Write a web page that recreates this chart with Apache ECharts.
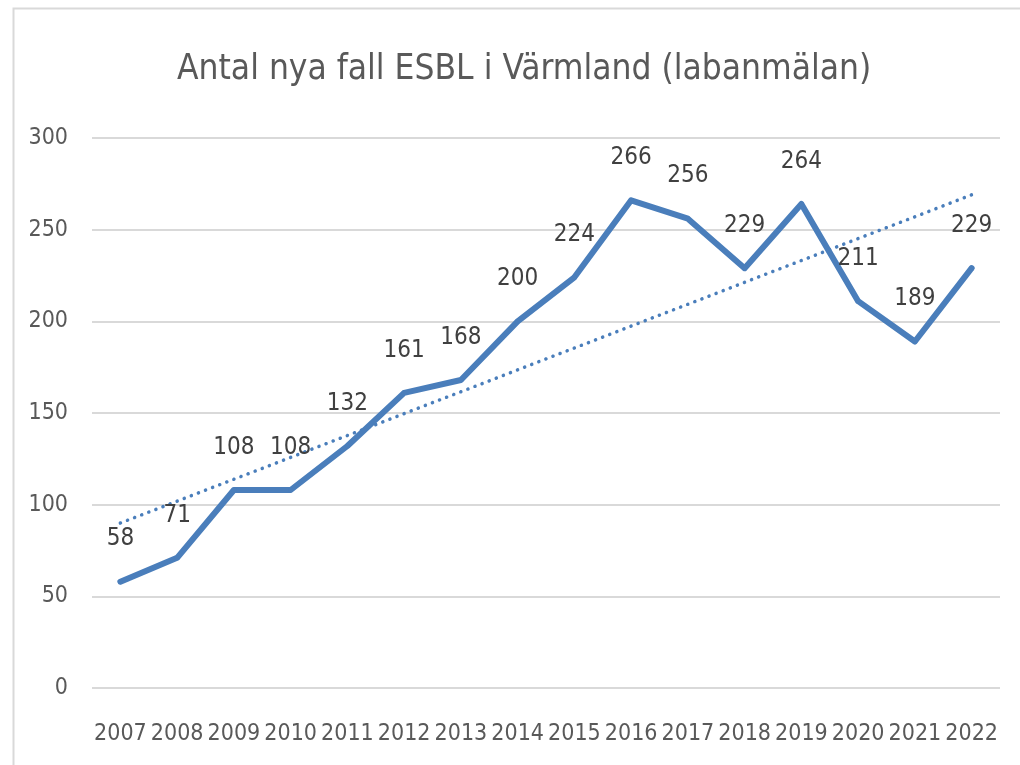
<!DOCTYPE html>
<html>
<head>
<meta charset="utf-8">
<script src="https://cdn.jsdelivr.net/npm/echarts@6/dist/echarts.min.js"></script>
<style>
  html, body { margin: 0; padding: 0; background: #fff; }
  #chart { width: 1020px; height: 765px; }
</style>
</head>
<body>
<div id="chart"></div>
<script>
const years = ["2007", "2008", "2009", "2010", "2011", "2012", "2013", "2014",
  "2015", "2016", "2017", "2018", "2019", "2020", "2021", "2022"];
const cases = [58, 71, 108, 108, 132, 161, 168, 200, 224, 266, 256, 229, 264, 211, 189, 229];
// linear trend, read at first and last year
const trendEnds = [90, 269];

const font = "'DejaVu Sans Condensed', 'DejaVu Sans', sans-serif";
const grey = "#595959";
const blue = "#4a7ebb";

const myChart = echarts.init(document.getElementById("chart"));
myChart.setOption({
  animation: false,
  title: {
    text: "Antal nya fall ESBL i Värmland (labanmälan)",
    left: 172,
    top: 47,
    textStyle: { color: grey, fontFamily: font, fontSize: 35, fontWeight: "normal" }
  },
  graphic: [{
    type: "rect",
    left: 11, top: 6,
    shape: { width: 1030, height: 800 },
    style: { fill: "none", stroke: "#d9d9d9", lineWidth: 2 }
  }],
  grid: { left: 92, right: 20, top: 138, bottom: 77 },
  xAxis: {
    type: "category",
    data: years,
    axisLine: { show: false },
    axisTick: { show: false },
    axisLabel: { color: grey, fontFamily: font, fontSize: 23, margin: 35, interval: 0 }
  },
  yAxis: {
    type: "value",
    min: 0, max: 300, interval: 50,
    axisLine: { show: false },
    axisTick: { show: false },
    axisLabel: { color: grey, fontFamily: font, fontSize: 23, margin: 24 },
    splitLine: { lineStyle: { color: "#d9d9d9", width: 2 } }
  },
  series: [
    {
      type: "line",
      data: cases,
      showSymbol: true,
      showAllSymbol: true,
      symbol: "circle",
      symbolSize: 5,
      itemStyle: { color: blue },
      lineStyle: { color: blue, width: 6, cap: "round", join: "round" },
      label: {
        show: true, position: "top", distance: 28,
        color: "#404040", fontFamily: font, fontSize: 24
      },
      z: 3
    },
    {
      type: "line",
      data: [[years[0], trendEnds[0]], [years[years.length - 1], trendEnds[1]]],
      showSymbol: false,
      lineStyle: { color: blue, width: 3.5, type: [0.1, 7.5], cap: "round" },
      z: 2
    }
  ]
});
</script>
</body>
</html>
